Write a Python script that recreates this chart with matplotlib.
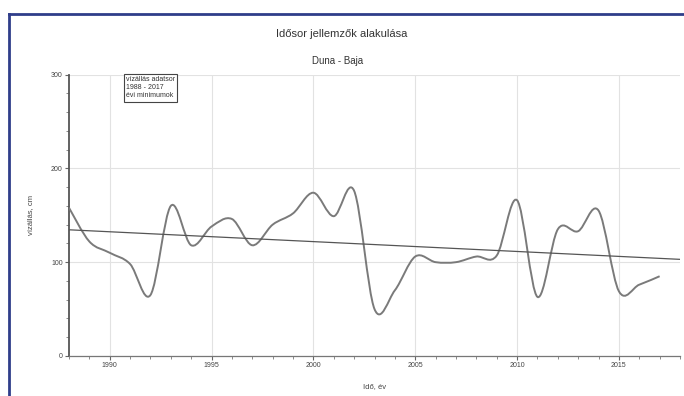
import matplotlib
matplotlib.use("Agg")
import matplotlib.pyplot as plt
import numpy as np
from matplotlib.path import Path
from matplotlib.patches import PathPatch
from matplotlib.lines import Line2D
from matplotlib.ticker import MultipleLocator

plt.rcParams['font.family'] = ['Liberation Sans', 'DejaVu Sans']

# yearly minimum water levels
years = [1988, 1989, 1990, 1991, 1992, 1993, 1994, 1995, 1996, 1997,
         1998, 1999, 2000, 2001, 2002, 2003, 2004, 2005, 2006, 2007,
         2008, 2009, 2010, 2011, 2012, 2013, 2014, 2015, 2016, 2017]
levels = [158, 122, 110, 98, 65, 160, 118, 138, 146, 118,
          140, 152, 174, 149, 176, 50, 70, 106, 100, 100,
          106, 107, 166, 63, 135, 133, 155, 69, 76, 85]

# linear trend line end points
trend_years = [1988, 2018]
trend_levels = [134.5, 103]

title = "Idősor jellemzők alakulása"
subtitle = "Duna - Baja"
box_text = "vízállás adatsor\n1988 - 2017\névi minimumok"


def smooth_path(xs, ys):
    # catmull-rom curve through the points as bezier segments
    p = np.column_stack([xs, ys]).astype(float)
    p = np.vstack([p[0], p, p[-1]])
    verts = [p[1]]
    codes = [Path.MOVETO]
    for i in range(1, len(p) - 2):
        c1 = p[i] + (p[i + 1] - p[i - 1]) / 6
        c2 = p[i + 1] - (p[i + 2] - p[i]) / 6
        verts += [c1, c2, p[i + 1]]
        codes += [Path.CURVE4] * 3
    return Path(verts, codes)


fig = plt.figure(figsize=(6.84, 3.96), dpi=100)
ax = fig.add_axes([69 / 684, 40 / 396, 611 / 684, 281.5 / 396])

ax.set_xlim(1988, 2018)
ax.set_ylim(0, 300)

ax.add_patch(PathPatch(smooth_path(years, levels), facecolor='none',
                       edgecolor='#7a7a7a', lw=1.4, zorder=3))
ax.plot(trend_years, trend_levels, color='#555555', lw=0.9, zorder=4)

ax.xaxis.set_major_locator(MultipleLocator(5))
ax.xaxis.set_minor_locator(MultipleLocator(1))
ax.yaxis.set_major_locator(MultipleLocator(100))
ax.yaxis.set_minor_locator(MultipleLocator(20))
ax.grid(True, which='major', color='#e2e2e2', lw=0.8)
ax.set_axisbelow(True)

for s in ['top', 'right']:
    ax.spines[s].set_visible(False)
ax.spines['left'].set_color('#555555')
ax.spines['left'].set_linewidth(1.3)
ax.spines['bottom'].set_color('#777777')
ax.spines['bottom'].set_linewidth(0.9)

ax.tick_params(axis='both', which='major', labelsize=5, length=3,
               color='#666666', labelcolor='#444444', pad=1.5)
ax.tick_params(axis='both', which='minor', length=2, color='#777777')

ax.set_xlabel("Idő, év", fontsize=5.5, color='#444444', labelpad=10)
ax.set_ylabel("vízállás, cm", fontsize=5.5, color='#444444', labelpad=12)

ax.text(0.093, 0.993, box_text, transform=ax.transAxes, fontsize=5,
        va='top', ha='left', linespacing=1.2, color='#333333',
        bbox=dict(boxstyle='square,pad=0.3', facecolor='white',
                  edgecolor='#444444', lw=0.8), zorder=5)

fig.text(342 / 684, 1 - 34 / 396, title, ha='center', va='center',
         fontsize=8, color='#333333')
fig.text(338 / 684, 1 - 61 / 396, subtitle, ha='center', va='center',
         fontsize=7, color='#333333')

# blue frame round the chart
fig.add_artist(Line2D([8.5 / 684, 8.5 / 684], [0, 1 - 14 / 396],
                      transform=fig.transFigure, color='#2f3d8a', lw=2))
fig.add_artist(Line2D([8.5 / 684, 1], [1 - 14 / 396, 1 - 14 / 396],
                      transform=fig.transFigure, color='#2f3d8a', lw=2))

fig.savefig("out.png", dpi=100)
